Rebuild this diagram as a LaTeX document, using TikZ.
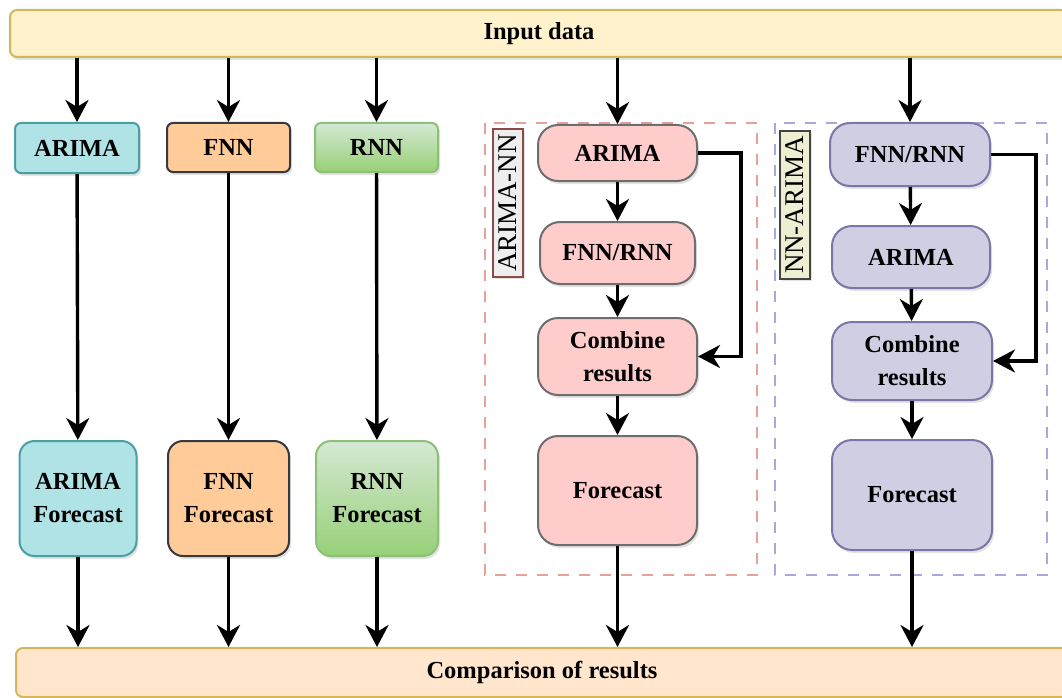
\documentclass[tikz,border=0pt]{standalone}
\usepackage{fontspec}
\setmainfont{Liberation Serif}
\usetikzlibrary{arrows.meta,shadows}
\definecolor{topfill}{HTML}{FFF2CC}
\definecolor{topdraw}{HTML}{D6B656}
\definecolor{botfill}{HTML}{FFE6CC}
\definecolor{botdraw}{HTML}{D6B656}
\definecolor{cyanfill}{HTML}{B0E3E6}
\definecolor{cyandraw}{HTML}{4A9FA5}
\definecolor{orfill}{HTML}{FFCC99}
\definecolor{ordraw}{HTML}{36393D}
\definecolor{grtop}{HTML}{D5E8D4}
\definecolor{grbot}{HTML}{97D077}
\definecolor{grdraw}{HTML}{8CC078}
\definecolor{pkfill}{HTML}{FFCCCC}
\definecolor{pkdraw}{HTML}{6E6E6E}
\definecolor{pufill}{HTML}{D0CEE2}
\definecolor{pudraw}{HTML}{7A76A8}
\definecolor{reddash}{HTML}{E8A09A}
\definecolor{bluedash}{HTML}{A8A8E0}
\definecolor{lab1fill}{HTML}{EEEEEE}
\definecolor{lab1draw}{HTML}{8B4A4A}
\definecolor{lab2fill}{HTML}{EEEED2}
\definecolor{lab2draw}{HTML}{444444}
\begin{document}
\begin{tikzpicture}[x=1pt,y=-1pt,
  every node/.style={font=\fontsize{24.5}{33}\selectfont\bfseries, align=center, inner sep=0pt},
  box/.style={draw, line width=2pt, rounded corners=#1,
    drop shadow={shadow xshift=2pt,shadow yshift=-3pt,opacity=0.22}},
  box/.default=8pt,
  arr/.style={line width=3.4pt, -{Stealth[length=22pt,width=23pt,inset=7pt]}},
  grp/.style={line width=2.8pt, dash pattern=on 11pt off 10pt},
  lab/.style={draw, line width=2pt, rotate=90, font=\fontsize{27}{30}\selectfont,
    minimum width=148pt, minimum height=30pt,
    drop shadow={shadow xshift=2pt,shadow yshift=-2pt,opacity=0.22}},
]
\useasboundingbox (0,0) rectangle (1062,698);

% bars
\node[box=7pt, fill=topfill, draw=topdraw, minimum width=1058pt, minimum height=47pt] (top) at (539,33.5) {Input data};
\node[box=7pt, fill=botfill, draw=botdraw, minimum width=1052pt, minimum height=49pt] (bot) at (542,672.5) {Comparison of results};

% single models
\node[box=6pt, fill=cyanfill, draw=cyandraw, minimum width=124pt, minimum height=50pt] (a1) at (77,148) {ARIMA};
\node[box=6pt, fill=orfill, draw=ordraw, minimum width=123pt, minimum height=49pt] (f1) at (228.5,147.5) {FNN};
\node[box=6pt, top color=grtop, bottom color=grbot, draw=grdraw, minimum width=123pt, minimum height=49pt] (r1) at (376.5,147.5) {RNN};

\node[box=15pt, fill=cyanfill, draw=cyandraw, minimum width=117pt, minimum height=115pt] (a2) at (78,498.5) {ARIMA\\Forecast};
\node[box=15pt, fill=orfill, draw=ordraw, minimum width=121pt, minimum height=115pt] (f2) at (228.5,498.5) {FNN\\Forecast};
\node[box=15pt, top color=grtop, bottom color=grbot, draw=grdraw, minimum width=122pt, minimum height=115pt] (r2) at (377,498.5) {RNN\\Forecast};

% group frames
\draw[grp, draw=reddash] (485,123) rectangle (757,575);
\draw[grp, draw=bluedash] (775,123) rectangle (1047,575);

% ARIMA-NN
\node[box=20pt, fill=pkfill, draw=pkdraw, minimum width=159pt, minimum height=56pt] (p1) at (617.5,153) {ARIMA};
\node[box=20pt, fill=pkfill, draw=pkdraw, minimum width=155pt, minimum height=62pt] (p2) at (617.5,253) {FNN/RNN};
\node[box=20pt, fill=pkfill, draw=pkdraw, minimum width=159pt, minimum height=77pt] (p3) at (617.5,356.5) {Combine\\results};
\node[box=20pt, fill=pkfill, draw=pkdraw, minimum width=159pt, minimum height=109pt] (p4) at (617.5,490.5) {Forecast};
\node[lab, fill=lab1fill, draw=lab1draw] (l1) at (508,203) {ARIMA-NN};

% NN-ARIMA
\node[box=20pt, fill=pufill, draw=pudraw, minimum width=160pt, minimum height=63pt] (b1) at (910,154.5) {FNN/RNN};
\node[box=20pt, fill=pufill, draw=pudraw, minimum width=158pt, minimum height=62pt] (b2) at (911,257) {ARIMA};
\node[box=20pt, fill=pufill, draw=pudraw, minimum width=160pt, minimum height=78pt] (b3) at (912,361) {Combine\\results};
\node[box=20pt, fill=pufill, draw=pudraw, minimum width=160pt, minimum height=110pt] (b4) at (912,495) {Forecast};
\node[lab, fill=lab2fill, draw=lab2draw] (l2) at (795,205) {NN-ARIMA};

% arrows from input
\foreach \n in {a1,f1,r1,p1,b1}
  \draw[arr] (\n.north |- top.south) -- (\n.north);
% single model arrows
\draw[arr] (a1) -- (a2);
\draw[arr] (f1) -- (f2);
\draw[arr] (r1) -- (r2);
% hybrid chains
\draw[arr] (p1) -- (p2);
\draw[arr] (p2) -- (p3);
\draw[arr] (p3) -- (p4);
\draw[arr] (b1) -- (b2);
\draw[arr] (b2) -- (b3);
\draw[arr] (b3) -- (b4);
% feedback
\draw[arr] (p1.east) -- ++(43,0) |- (p3.east);
\draw[arr] (b1.east) -- ++(45,0) |- (b3.east);
% to comparison
\foreach \n in {a2,f2,r2,p4,b4}
  \draw[arr] (\n.south) -- (\n.south |- bot.north);
\end{tikzpicture}
\end{document}
